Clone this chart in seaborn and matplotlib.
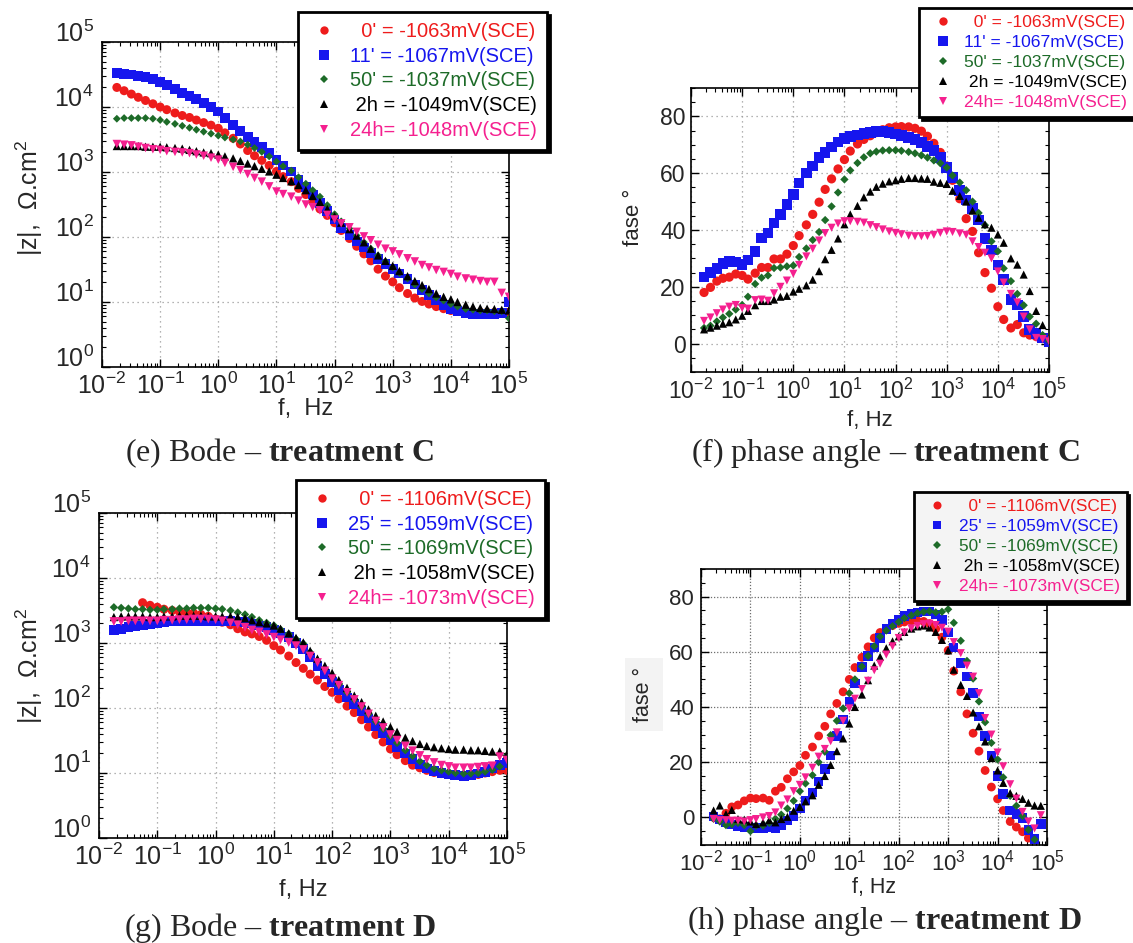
import numpy as np
import matplotlib
matplotlib.use("Agg")
import matplotlib.pyplot as plt
import seaborn as sns
from matplotlib.lines import Line2D
from matplotlib.ticker import (FixedLocator, LogLocator, MultipleLocator,
                               FuncFormatter, NullFormatter)

nan = float("nan")

# ---------------------------------------------------------------- data
freq_hz = [
    0.018, 0.024, 0.032, 0.042, 0.056, 0.075,
    0.1, 0.13, 0.18, 0.24, 0.32, 0.42, 0.56, 0.75,
    1, 1.3, 1.8, 2.4, 3.2, 4.2, 5.6, 7.5,
    10, 13, 18, 24, 32, 42, 56, 75,
    100, 130, 180, 240, 320, 420, 560, 750,
    1000, 1300, 1800, 2400, 3200, 4200, 5600, 7500,
    10000, 13000, 18000, 24000, 32000, 42000, 56000, 75000,
    100000,
]

labels_c = ["  0' = -1063mV(SCE)", "11' = -1067mV(SCE)", "50' = -1037mV(SCE)",
            " 2h = -1049mV(SCE)", "24h= -1048mV(SCE)"]
labels_d = ["  0' = -1106mV(SCE)", "25' = -1059mV(SCE)", "50' = -1069mV(SCE)",
            " 2h = -1058mV(SCE)", "24h= -1073mV(SCE)"]

# treatment C, |Z| (ohm.cm2)
zc_0 = [20000, 17800, 15800, 14100, 12600, 11200,
        10000, 9100, 8100, 7400, 6900, 6300, 5750, 5250,
        4700, 4000, 3300, 2700, 2140, 1780, 1510, 1260,
        1020, 850, 710, 560, 450, 350, 270, 215,
        166, 126, 95, 72, 55, 43, 32, 25,
        20.4, 16.6, 13.5, 11.5, 10.2, 9.3, 8.5, 7.9,
        7.4, 7.2, 7.1, 6.9, 6.9, 6.9, 6.9, 6.9,
        6.9]
zc_11 = [33100, 32400, 31600, 30200, 28800, 26900,
         24500, 21900, 19100, 16600, 14800, 13200, 11500, 10000,
         8500, 6760, 5250, 4270, 3470, 2880, 2400, 1950,
         1550, 1260, 1020, 760, 590, 450, 330, 250,
         186, 138, 107, 85, 69, 56, 46, 38,
         32, 27.5, 22.4, 18.6, 15.5, 12.9, 10.7, 9.1,
         7.9, 7.2, 6.8, 6.6, 6.6, 6.6, 6.6, 6.8,
         10]
zc_50 = [6600, 6760, 6760, 6760, 6760, 6600,
         6300, 5900, 5500, 5130, 4790, 4470, 4170, 3890,
         3630, 3390, 3160, 2950, 2630, 2340, 2040, 1740,
         1450, 1230, 1050, 830, 660, 525, 417, 309,
         224, 174, 135, 105, 83, 66, 52, 42,
         34, 28, 23, 18.6, 15.8, 13.5, 11.7, 10.5,
         9.3, 8.5, 7.8, 7.6, 7.4, 7.4, 7.2, 7.2,
         5.6]
zc_2h = [2510, 2510, 2510, 2510, 2450, 2450,
         2450, 2400, 2340, 2290, 2190, 2090, 2000, 1950,
         1860, 1740, 1620, 1480, 1350, 1230, 1120, 1020,
         910, 810, 720, 630, 525, 427, 347, 269,
         209, 166, 132, 105, 83, 66, 52, 43,
         36, 30, 25, 21, 18.2, 15.8, 13.5, 12.0,
         11.0, 10.0, 9.1, 8.5, 8.1, 7.9, 7.8, 7.6,
         7.4]
zc_24h = [2690, 2630, 2570, 2450, 2340, 2240,
          2190, 2090, 2040, 2000, 1950, 1860, 1780, 1660,
          1550, 1380, 1200, 1070, 930, 810, 710, 600,
          500, 457, 417, 363, 316, 288, 257, 219,
          186, 162, 141, 120, 102, 89, 76, 66,
          60, 54, 47, 42, 37, 34, 31, 29,
          27, 24.5, 23, 22, 21, 20.4, 20.4, 13.8,
          12.0]

# treatment C, phase angle (deg)
phc_0 = [18.0, 19.8, 22.0, 23.0, 23.4, 24.5,
         24.0, 22.7, 24.8, 26.8, 26.8, 29.8, 29.8, 31.5,
         34.5, 38.0, 41.8, 45.5, 49.8, 54.3, 58.0, 61.5,
         64.8, 67.8, 70.3, 71.9, 73.2, 74.3, 75.3, 76.0,
         76.3, 76.4, 76.3, 75.8, 74.8, 73.0, 70.5, 67.3,
         62.5, 57.5, 51.0, 44.0, 39.5, 32.0, 25.0, 19.5,
         13.0, 8.5, 5.5, 6.7, 3.8, 3.0, 2.5, 1.8,
         1.0]
phc_11 = [23.5, 25.0, 26.5, 28.2, 29.0, 28.8,
          27.8, 29.5, 32.5, 37.2, 39.0, 42.5, 45.5, 49.0,
          52.5, 56.5, 60.0, 62.5, 65.5, 67.3, 69.2, 71.0,
          72.2, 73.0, 73.5, 74.0, 74.4, 74.6, 74.6, 74.3,
          73.8, 73.3, 72.6, 71.8, 70.8, 69.5, 68.0, 65.5,
          62.0, 58.5, 54.0, 50.5, 47.5, 43.5, 37.0, 33.0,
          27.7, 22.5, 15.5, 13.6, 9.5, 5.0, 3.5, 2.0,
          0.6]
phc_50 = [5.5, 6.3, 7.8, 9.2, 10.5, 12.0,
          13.6, 16.5, 21.0, 23.2, 24.0, 26.6, 26.8, 27.2,
          27.5, 30.5, 33.5, 36.5, 39.3, 43.5, 48.3, 53.2,
          57.8, 61.0, 63.6, 65.6, 67.0, 67.6, 68.0, 68.1,
          68.1, 67.9, 67.5, 67.0, 66.3, 65.5, 64.5, 63.5,
          62.0, 59.2, 56.7, 54.0, 50.0, 46.0, 41.7, 36.0,
          32.5, 26.5, 22.0, 17.5, 13.5, 9.5, 7.0, 3.0,
          1.0]
phc_2h = [5.0, 5.6, 6.3, 7.0, 7.5, 8.5,
          9.8, 11.5, 13.5, 15.0, 15.0, 15.5, 16.5, 16.8,
          18.3, 19.3, 20.5, 22.5, 25.5, 29.7, 33.0, 37.0,
          42.0, 45.5, 48.5, 51.5, 53.5, 55.2, 56.3, 57.1,
          57.5, 58.0, 58.3, 58.3, 58.1, 58.0, 57.0, 56.6,
          56.2, 53.8, 52.0, 50.0, 46.8, 44.3, 42.0, 40.8,
          38.4, 35.5, 30.0, 27.8, 24.3, 18.5, 11.5, 6.5,
          nan]
phc_24h = [8.0, 9.2, 10.7, 12.0, 13.0, 13.6,
           12.5, 12.3, 15.3, 15.5, 15.1, 17.7, 20.0, 22.2,
           24.6, 27.7, 30.7, 33.4, 36.3, 38.9, 40.8, 42.3,
           43.1, 43.1, 42.9, 42.6, 41.7, 41.0, 40.2, 39.5,
           39.0, 38.5, 38.0, 37.8, 37.8, 37.9, 38.3, 39.0,
           39.5, 39.3, 38.8, 38.3, 36.0, 34.0, 32.0, 30.0,
           25.4, 21.5, 17.5, 14.5, 9.5, 5.0, 2.0, 1.6,
           0.8]

# treatment D, |Z| (ohm.cm2)
zd_0 = [nan, nan, nan, nan, 4170, 3800,
        3550, 3310, 3160, 3020, 2950, 2880, 2750, 2570,
        2340, 2090, 1910, 1660, 1480, 1380, 1260, 1100,
        910, 780, 630, 500, 407, 331, 269, 214,
        174, 138, 107, 85, 66, 51, 39, 30,
        23.4, 19.1, 15.5, 13.2, 12.0, 11.0, 10.2, 9.8,
        9.5, 9.3, 9.1, 9.3, 9.5, 10.0, 10.5, 11.0,
        11.0]
zd_25 = [1580, 1660, 1740, 1820, 1860, 1950,
         2040, 2090, 2140, 2140, 2190, 2190, 2190, 2190,
         2190, 2190, 2190, 2140, 2090, 2000, 1860, 1740,
         1580, 1410, 1230, 1000, 810, 600, 447, 331,
         251, 191, 145, 115, 89, 69, 52, 41,
         32, 25, 20, 16.2, 13.5, 11.7, 10.7, 10.0,
         9.5, 9.3, 9.1, 9.3, 9.8, 10.5, 11.7, 13.2,
         14.1]
zd_50 = [3550, 3470, 3390, 3310, 3310, 3240,
         3240, 3310, 3310, 3390, 3390, 3470, 3470, 3470,
         3390, 3310, 3160, 2950, 2750, 2510, 2240, 2040,
         1860, 1620, 1380, 1150, 980, 720, 525, 398,
         302, 229, 174, 135, 105, 81, 62, 48,
         37, 29, 22.4, 18.2, 15.1, 13.2, 11.7, 11.0,
         10.5, 10.0, 9.8, 9.8, 10.0, 10.5, 11.2, 12.6,
         18.6]
zd_2h = [2510, 2570, 2570, 2570, 2570, 2510,
         2510, 2570, 2570, 2630, 2630, 2630, 2630, 2570,
         2570, 2570, 2570, 2510, 2400, 2240, 2090, 2000,
         1860, 1660, 1410, 1200, 1020, 760, 575, 447,
         347, 269, 204, 155, 123, 95, 76, 62,
         51, 43, 35, 31, 28, 26, 25, 24,
         23.4, 22.9, 22.9, 22.4, 22.4, 21.9, 21.4, 21.4,
         19.5]
zd_24h = [2140, 2140, 2190, 2190, 2190, 2190,
          2190, 2240, 2240, 2290, 2290, 2340, 2340, 2340,
          2290, 2190, 2040, 1910, 1740, 1580, 1480, 1350,
          1230, 1120, 1020, 910, 794, 630, 500, 372,
          282, 224, 174, 135, 105, 81, 63, 50,
          39, 32, 26, 22, 18.6, 16.2, 14.5, 13.2,
          12.6, 12.0, 12.0, 12.0, 12.3, 12.6, 12.9, 17.8,
          15.8]

# treatment D, phase angle (deg)
phd_0 = [0.0, -0.5, 1.5, 3.8, 4.5, 6.0,
         7.0, 6.8, 7.0, 6.2, 9.5, 10.9, 14.0, 16.5,
         18.8, 22.5, 25.5, 29.5, 33.0, 37.5, 41.3, 45.5,
         50.0, 54.3, 58.0, 61.8, 65.0, 67.0, 68.5, 69.5,
         70.3, 70.8, 71.2, 71.2, 71.0, 70.2, 68.3, 65.3,
         60.5, 53.0, 45.5, 37.5, 30.5, 24.0, 17.0, 11.0,
         6.7, 2.5, -1.5, -3.5, -5.2, -7.5, nan, nan,
         nan]
phd_25 = [0.3, -0.8, -1.8, -2.6, -3.2, -3.5,
          -3.6, -3.9, -3.9, -3.6, -3.9, -2.7, -1.2, 0.5,
          3.2, 6.2, 9.0, 13.0, 17.5, 22.5, 29.5, 35.5,
          42.0, 48.5, 54.5, 58.5, 61.5, 65.0, 68.2, 70.3,
          71.8, 72.9, 73.7, 74.3, 74.7, 74.7, 73.5, 71.5,
          67.0, 61.5, 56.0, 51.0, 45.0, 36.5, 29.5, 22.5,
          15.0, 8.5, 2.5, 1.2, -0.2, -4.5, -7.9, -2.4,
          nan]
phd_50 = [-0.5, -1.5, -2.8, -2.5, -2.0, -2.8,
          -5.0, -3.0, -3.0, -2.0, -0.5, 1.0, 3.2, 6.0,
          9.5, 12.3, 15.3, 20.0, 23.8, 29.8, 35.0, 39.5,
          45.0, 50.0, 54.7, 58.5, 62.0, 65.5, 67.7, 69.3,
          70.8, 72.2, 73.2, 74.0, 74.5, 74.7, 74.3, 74.5,
          75.4, 70.5, 64.0, 56.7, 50.3, 42.0, 34.5, 27.0,
          21.0, 14.5, 7.8, 4.2, 0.5, -4.5, -8.0, nan,
          nan]
phd_2h = [2.5, 4.3, 1.2, 2.7, -0.6, -0.8,
          -1.5, -2.4, -1.8, -1.0, -1.8, -0.6, 0.2, 2.4,
          3.8, 5.8, 8.0, 11.8, 15.0, 19.0, 24.0, 28.6,
          34.0, 40.0, 44.5, 49.7, 55.0, 58.2, 61.3, 63.8,
          65.6, 67.2, 68.4, 69.2, 69.5, 68.8, 67.2, 64.3,
          60.5, 53.5, 48.0, 44.0, 38.0, 33.0, 27.5, 21.5,
          17.0, 12.5, 8.8, 7.8, 6.7, 5.3, 4.3, 4.2,
          nan]
phd_24h = [-0.6, -1.0, -1.0, -1.2, -1.2, -1.5,
           -1.0, -0.6, 0.0, 0.5, 1.8, 4.3, 6.5, 9.5,
           11.8, 14.5, 18.0, 22.0, 24.8, 27.6, 30.8, 35.0,
           39.5, 43.0, 46.5, 49.5, 53.3, 55.7, 59.0, 62.0,
           65.0, 67.0, 68.5, 69.4, 70.0, 70.2, 69.7, 68.7,
           67.3, 63.5, 59.5, 55.0, 51.0, 45.0, 36.0, 30.0,
           23.5, 18.5, 12.0, 6.8, 2.0, -1.5, -4.0, 0.8,
           nan]

# ---------------------------------------------------------------- style
sns.set_style("ticks")
plt.rcParams.update({
    "font.family": ["Liberation Sans", "DejaVu Sans"],
    "mathtext.fontset": "custom",
    "mathtext.rm": "Liberation Sans",
    "mathtext.it": "Liberation Sans:italic",
    "mathtext.bf": "Liberation Serif:bold",
    "axes.linewidth": 1.2,
    "axes.edgecolor": "black",
})

W, H = 1133, 943
fig = plt.figure(figsize=(W / 100, H / 100), dpi=100)
fig.patch.set_facecolor("white")

colors = ["#ee1c1c", "#1616ee", "#1d6b28", "#000000", "#f5208f"]
markers = ["o", "s", "D", "^", "v"]


def px_axes(left, top, right, bottom):
    return fig.add_axes([left / W, 1 - bottom / H, (right - left) / W, (bottom - top) / H])


def decade_label(v, pos):
    k = int(round(np.log10(v)))
    return rf"$\mathregular{{10^{{{k}}}}}$"


def base_style(ax, tick_fs, grid_color, grid_ls, xpad, ypad):
    ax.set_xscale("log")
    ax.set_xlim(1e-2, 1e5)
    ax.xaxis.set_major_locator(FixedLocator([10.0 ** k for k in range(-2, 6)]))
    ax.xaxis.set_major_formatter(FuncFormatter(decade_label))
    ax.xaxis.set_minor_locator(LogLocator(base=10, subs=np.arange(2, 10), numticks=40))
    ax.xaxis.set_minor_formatter(NullFormatter())
    ax.tick_params(which="both", direction="in", top=True, right=True, color="black")
    ax.tick_params(which="major", length=6, width=1.0, labelsize=tick_fs)
    ax.tick_params(which="minor", length=3, width=0.8)
    ax.tick_params(axis="x", which="major", pad=xpad)
    ax.tick_params(axis="y", which="major", pad=ypad)
    ax.grid(True, which="major", color=grid_color, linestyle=grid_ls, linewidth=0.9)
    ax.set_axisbelow(True)
    for sp in ax.spines.values():
        sp.set_linewidth(1.2)
        sp.set_color("black")


def bode_style(ax):
    ax.set_yscale("log")
    ax.set_ylim(1, 1e5)
    ax.yaxis.set_major_locator(FixedLocator([10.0 ** k for k in range(0, 6)]))
    ax.yaxis.set_major_formatter(FuncFormatter(decade_label))
    ax.yaxis.set_minor_locator(LogLocator(base=10, subs=np.arange(2, 10), numticks=40))
    ax.yaxis.set_minor_formatter(NullFormatter())
    # decade labels sit on their tick, as in the source plotting software
    for tk in ax.yaxis.get_major_ticks():
        tk.label1.set_verticalalignment("baseline")


def phase_style(ax):
    ax.set_ylim(-10, 90)
    ax.yaxis.set_major_locator(FixedLocator([0, 20, 40, 60, 80]))
    ax.yaxis.set_minor_locator(MultipleLocator(5))


def draw(ax, series, sizes):
    for vals, c, m, s in zip(series, colors, markers, sizes):
        sns.scatterplot(x=freq_hz, y=vals, ax=ax, color=c, marker=m, s=s,
                        linewidth=0, edgecolor="none", legend=False, zorder=3)


def legend(ax, labels, msizes, x0, y0, fs, facecolor, hl, htp, lsp, bpad):
    handles = [Line2D([], [], linestyle="none", marker=m, color=c,
                      markersize=ms, markeredgewidth=0)
               for m, c, ms in zip(markers, colors, msizes)]
    leg = ax.legend(handles, labels, loc="upper left",
                    bbox_to_anchor=(x0 / W, 1 - y0 / H), bbox_transform=fig.transFigure,
                    borderaxespad=0, fontsize=fs, frameon=True, fancybox=False,
                    shadow={"color": "black", "alpha": 1.0}, facecolor=facecolor,
                    edgecolor="black", framealpha=1, handlelength=hl,
                    handletextpad=htp, labelspacing=lsp, borderpad=bpad)
    leg.get_frame().set_linewidth(2.0)
    for t, c in zip(leg.get_texts(), colors):
        t.set_color(c)
    return leg


def caption(xc, yb, txt):
    fig.text(xc / W, 1 - yb / H, txt, family="Liberation Serif", fontsize=23,
             ha="center", va="baseline")


zlabel = "|z|,  \u03a9.cm$^{2}$"

# ---------------------------------------------------------------- (e)
ax_e = px_axes(102, 42, 509, 367)
base_style(ax_e, 18, "#9a9a9a", (0, (1, 3)), 4, 6)
bode_style(ax_e)
draw(ax_e, [zc_0, zc_11, zc_50, zc_2h, zc_24h], [42, 50, 16, 36, 38])
ax_e.set_xlabel("f,  Hz", fontsize=17)
ax_e.xaxis.set_label_coords(0.5, -0.095)
ax_e.set_ylabel(zlabel, fontsize=18)
ax_e.yaxis.set_label_coords(-0.14, 0.52)
legend(ax_e, labels_c, [6.0, 6.6, 3.8, 6.0, 6.0], 298, 12, 14.5, "white", 1.6, 0.5, 0.28, 0.5)
caption(280, 461, r"(e) Bode – $\mathbf{treatment\ C}$")

# ---------------------------------------------------------------- (f)
ax_f = px_axes(691, 88, 1049, 372)
base_style(ax_f, 16.5, "#9a9a9a", (0, (1, 3)), 5, 4)
phase_style(ax_f)
draw(ax_f, [phc_0, phc_11, phc_50, phc_2h, phc_24h], [44, 58, 18, 34, 34])
ax_f.set_xlabel("f, Hz", fontsize=16)
ax_f.xaxis.set_label_coords(0.5, -0.135)
ax_f.set_ylabel("fase \u00b0", fontsize=16)
ax_f.yaxis.set_label_coords(-0.13, 0.546)
legend(ax_f, labels_c, [6.0, 6.8, 3.8, 5.6, 5.6], 919, 8, 12.6, "white", 1.9, 0.3, 0.27, 0.4)
caption(885, 461, r"(f) phase angle – $\mathbf{treatment\ C}$")

# ---------------------------------------------------------------- (g)
ax_g = px_axes(99, 513, 507, 838)
base_style(ax_g, 18, "#9a9a9a", (0, (1, 3)), 4, 6)
bode_style(ax_g)
draw(ax_g, [zd_0, zd_25, zd_50, zd_2h, zd_24h], [42, 50, 18, 36, 40])
ax_g.set_xlabel("f, Hz", fontsize=17)
ax_g.xaxis.set_label_coords(0.5, -0.125)
ax_g.set_ylabel(zlabel, fontsize=18)
ax_g.yaxis.set_label_coords(-0.132, 0.53)
legend(ax_g, labels_d, [6.0, 6.6, 3.8, 6.0, 6.0], 296, 480, 14.5, "white", 1.6, 0.5, 0.28, 0.5)
caption(280, 936, r"(g) Bode – $\mathbf{treatment\ D}$")

# ---------------------------------------------------------------- (h)
ax_h = px_axes(701, 569, 1047, 845)
base_style(ax_h, 16, "#6e6e6e", (0, (1, 1.5)), 3, 5)
phase_style(ax_h)
draw(ax_h, [phd_0, phd_25, phd_50, phd_2h, phd_24h], [40, 46, 18, 34, 34])
ax_h.set_xlabel("f, Hz", fontsize=15.5)
ax_h.xaxis.set_label_coords(0.5, -0.115)
ax_h.set_ylabel("fase \u00b0", fontsize=15.5,
                bbox=dict(boxstyle="square,pad=0.4", facecolor="#f3f3f3", edgecolor="none"))
ax_h.yaxis.set_label_coords(-0.135, 0.545)
legend(ax_h, labels_d, [5.8, 6.2, 3.8, 5.6, 5.6], 914, 492, 12.4, "#f4f4f4", 1.9, 0.3, 0.29, 0.4)
caption(885, 929, r"(h) phase angle – $\mathbf{treatment\ D}$")

fig.savefig("out.png", dpi=100, facecolor="white")
